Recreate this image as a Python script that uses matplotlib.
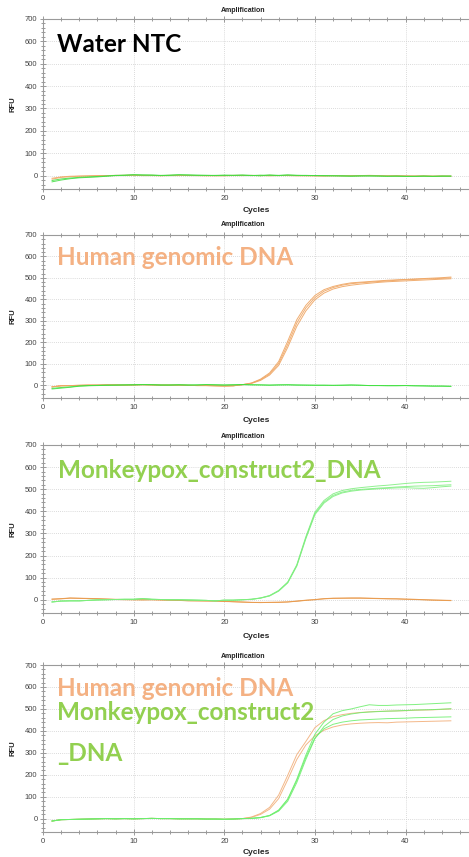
"""Four stacked qPCR amplification panels (RFU vs cycle)."""
import matplotlib
import numpy as np

matplotlib.use("Agg")
import matplotlib.pyplot as plt
from matplotlib.ticker import MultipleLocator

W, H = 469, 857
CYCLES = np.arange(1, 46)

# ---- panel 1: water NTC (flat traces) ----
NTC_ORANGE = [
    [-12, -6, -3, -2, -1, 0, 0, 1, 1, 2, 1, 1, 0, 1, 1, 0, 0, -1, 0, 0, 1, 1, 0, 0, 1, 0, 1, 0, 0, -1,
     -1, 0, -1, -1, 0, 1, 0, -1, 0, -1, -2, -1, -2, -2, -2],
    [-16, -8, -5, -3, -2, -1, 0, 0, 1, 1, 0, 0, -1, 0, 0, 1, 0, 0, -1, -1, 0, 0, 1, 0, -1, 0, 0, -1, -1, -1,
     -2, -1, -1, 0, -1, 0, -1, -1, -2, -2, -2, -2, -3, -2, -3],
]
NTC_GREEN = [
    [-28, -20, -14, -10, -8, -6, -3, 0, 1, 3, 2, 2, 0, 1, 3, 2, 1, 1, 0, 1, 1, 2, 1, -1, 3, 1, 3, 1, 0, 0,
     -1, -1, -2, -3, -2, -1, -2, -3, -3, -4, -4, -3, -4, -3, -3],
    [-22, -15, -11, -8, -6, -4, -2, 1, 2, 4, 3, 2, 1, 2, 4, 3, 2, 1, 1, 2, 1, 2, 0, 2, 1, 0, 2, 1, 1, 0,
     0, -1, -1, -2, -1, -2, -2, -3, -2, -3, -3, -2, -3, -2, -2],
]

# ---- panel 2: human genomic DNA ----
HUMAN_BASE = [-8, -3, -2, -1, 0, 0, 1, 1, 0, 1, 2, 1, 0, 0, 0, -1, -2, -2, -3, -4, -3, 2]
HUM2_ORANGE = [
    HUMAN_BASE + [10, 28, 57, 110, 205, 305, 372, 418, 445, 460, 470, 477, 480, 483, 486, 489, 491, 493,
                  495, 497, 499, 501, 504],
    HUMAN_BASE + [8, 22, 47, 92, 176, 274, 346, 398, 429, 448, 459, 466, 471, 475, 479, 482, 484, 486,
                  488, 490, 492, 494, 496],
    HUMAN_BASE + [9, 25, 52, 101, 190, 290, 360, 408, 438, 455, 466, 473, 477, 480, 483, 486, 489, 491,
                  493, 495, 496, 498, 500],
]
HUM2_GREEN = [
    [-18, -14, -10, -5, -3, -2, -1, 0, 1, 2, 3, 2, 1, 0, 2, 1, 1, 3, 2, 1, 2, 3, 2, 1, 0, 1, 2, 1, 0, 0,
     0, -1, 0, 1, 0, -2, -2, -3, -3, -2, -3, -4, -5, -5, -6],
    [-15, -11, -8, -4, -2, -1, 0, 0, 1, 1, 2, 2, 0, 1, 1, 0, 1, 2, 1, 0, 1, 2, 1, 1, 0, 1, 1, 0, 0, -1,
     -1, -1, -1, 0, -1, -2, -2, -2, -2, -2, -3, -3, -4, -4, -5],
]

# ---- panel 3: Monkeypox construct 2 DNA ----
MPX_BASE = [-10, -6, -5, -5, -3, -1, 0, 1, 2, 2, 5, 2, 1, 0, 0, -1, -2, -3, -5, -2, -2, 0, 2]
MPX3_GREEN = [
    MPX_BASE + [8, 18, 40, 78, 155, 280, 390, 442, 472, 487, 495, 499, 502, 505, 507, 510, 512, 514,
                515, 516, 518, 520],
    MPX_BASE + [8, 19, 42, 80, 158, 285, 396, 449, 479, 494, 502, 507, 511, 515, 518, 522, 526, 529,
                531, 532, 534, 536],
    MPX_BASE + [7, 17, 39, 76, 152, 276, 385, 437, 467, 483, 491, 496, 499, 502, 504, 506, 507, 505,
                504, 507, 511, 514],
]
MPX3_ORANGE = [
    [3, 5, 8, 7, 6, 5, 3, 2, 1, 0, 0, 0, -1, -2, -3, -5, -5, -6, -6, -7, -9, -10, -12, -12, -12, -12,
     -10, -6, -2, 0, 5, 7, 7, 8, 8, 7, 6, 5, 4, 3, 2, 0, -1, -2, -3],
    [2, 4, 7, 6, 5, 4, 3, 1, 0, 0, -1, 0, -1, -2, -3, -4, -5, -5, -6, -8, -9, -11, -12, -13, -12, -11,
     -10, -7, -3, 1, 4, 6, 7, 7, 7, 6, 5, 4, 4, 2, 1, 0, -2, -3, -4],
]

# ---- panel 4: both templates together ----
MIX_BASE = [-10, -4, -3, -2, -1, 0, 1, 0, 1, 0, 1, 2, 1, 1, 0, 0, 0, -1, -1, -2, -1, 1]
MIX4_ORANGE = [
    MIX_BASE + [8, 24, 52, 108, 198, 292, 352, 415, 447, 465, 474, 480, 484, 487, 489, 490, 491, 492,
                494, 495, 496, 498, 500],
    MIX_BASE + [7, 20, 44, 92, 178, 270, 336, 378, 403, 418, 427, 432, 435, 437, 438, 437, 440, 441,
                442, 443, 444, 445, 446],
]
MIX4_GREEN = [
    MIX_BASE + [2, 6, 15, 40, 90, 180, 290, 385, 440, 478, 492, 500, 510, 519, 516, 516, 518, 519,
                520, 522, 524, 526, 528],
    MIX_BASE + [2, 5, 14, 35, 80, 165, 270, 365, 420, 452, 468, 477, 483, 486, 488, 490, 491, 493,
                495, 496, 497, 499, 501],
    MIX_BASE + [2, 6, 15, 38, 88, 175, 280, 368, 410, 430, 440, 446, 450, 452, 454, 456, 457, 458,
                460, 461, 462, 463, 464],
]

ORANGE_TEXT = "#F4B183"
GREEN_TEXT = "#92D050"

# (axes top px, axes bottom px, title y, xlabel y, orange traces, green traces, colours)
PANELS = [
    (19, 189, 10, 211, NTC_ORANGE, NTC_GREEN, "#F0A868", "#3FDD3F"),
    (235, 398, 225, 420, HUM2_ORANGE, HUM2_GREEN, "#EFA562", "#3FE03F"),
    (445, 613, 436, 637, MPX3_ORANGE, MPX3_GREEN, "#E99A4C", "#7DEE7D"),
    (665, 832, 657, 853, MIX4_ORANGE, MIX4_GREEN, "#F2B07C", "#6BEE6B"),
]

# annotation texts: (text, x px, baseline y px, colour)
LABELS = [
    ("Water NTC", 57, 52, "black"),
    ("Human genomic DNA", 57, 265, ORANGE_TEXT),
    ("Monkeypox_construct2_DNA", 58, 478, GREEN_TEXT),
    ("Human genomic DNA", 57, 696, ORANGE_TEXT),
    ("Monkeypox_construct2", 57, 720, GREEN_TEXT),
    ("_DNA", 57, 761, GREEN_TEXT),
]


def main() -> None:
    plt.rcParams["font.family"] = ["Liberation Sans", "DejaVu Sans"]
    fig = plt.figure(figsize=(W / 100, H / 100), dpi=100)
    left, right = 43, 469
    for top, bottom, title_y, xlab_y, oranges, greens, c_or, c_gr in PANELS:
        ax = fig.add_axes([left / W, 1 - bottom / H, (right - left) / W, (bottom - top) / H])
        for trace in oranges:
            ax.plot(CYCLES, trace, color=c_or, lw=0.7, alpha=0.9)
        for trace in greens:
            ax.plot(CYCLES, trace, color=c_gr, lw=0.7, alpha=0.85)
        ax.set_xlim(0, 47)
        ax.set_ylim(-60, 700)
        ax.xaxis.set_major_locator(MultipleLocator(10))
        ax.xaxis.set_minor_locator(MultipleLocator(2))
        ax.yaxis.set_major_locator(MultipleLocator(100))
        ax.yaxis.set_minor_locator(MultipleLocator(20))
        ax.grid(True, which="major", color="#cfcfcf", lw=0.6, ls=(0, (1, 1.5)))
        ax.set_axisbelow(True)
        for side in ("left", "bottom", "top"):
            ax.spines[side].set_color("#9a9a9a")
            ax.spines[side].set_linewidth(0.8)
        ax.spines["right"].set_visible(False)
        ax.tick_params(which="both", direction="inout", colors="#8a8a8a", labelcolor="#444444",
                       labelsize=5.5, top=True, width=0.6)
        ax.tick_params(which="major", length=4, pad=2)
        ax.tick_params(which="minor", length=2.5)
        ax.set_ylabel("RFU", fontsize=5.5, fontweight="bold", labelpad=6, color="#222222")
        fig.text(256 / W, 1 - xlab_y / H, "Cycles", ha="center", va="center",
                 fontsize=6, fontweight="bold", color="#222222")
        fig.text(243 / W, 1 - title_y / H, "Amplification", ha="center", va="center",
                 fontsize=5, fontweight="bold", color="#222222")

    for text, x, y, color in LABELS:
        fig.text(x / W, 1 - y / H, text, ha="left", va="baseline", color=color,
                 fontsize=17.5, fontweight="bold", family=["Lato", "DejaVu Sans"])

    fig.savefig("out.png", dpi=100)
    plt.close(fig)


if __name__ == "__main__":
    main()
